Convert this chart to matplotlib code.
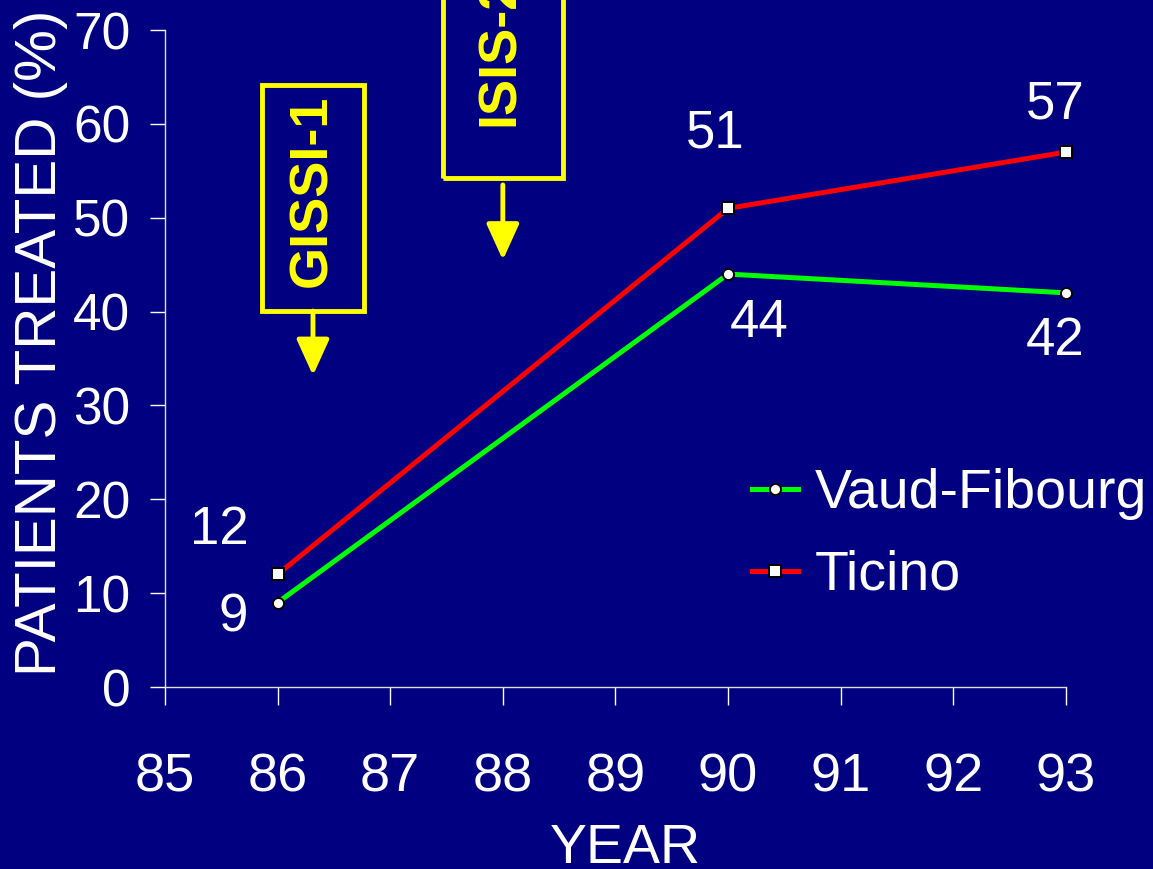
import matplotlib.pyplot as plt
from matplotlib.patches import Rectangle

# thrombolysis use by region, % of patients treated
years = [86, 90, 93]
vaud_fibourg = [9, 44, 42]
ticino = [12, 51, 57]
x_ticks = [85, 86, 87, 88, 89, 90, 91, 92, 93]
y_ticks = [0, 10, 20, 30, 40, 50, 60, 70]

# offsets (points) for the value labels next to each marker
vaud_offsets = [(-32, -11), (22, -35), (-8, -35)]
ticino_offsets = [(-42, 32), (-9, 54), (-8, 34)]

NAVY = '#000080'
plt.rcParams['font.family'] = ['Liberation Sans', 'DejaVu Sans']

fig = plt.figure(figsize=(11.53, 8.69), dpi=100, facecolor=NAVY)
ax = fig.add_axes([0.1431, 0.2094, 0.7814, 0.7560], facecolor=NAVY)

ax.plot(years, vaud_fibourg, color='#00ff00', lw=3.6, marker='o', ms=8,
        mfc='white', mec='black', mew=1.4, label='Vaud-Fibourg', clip_on=False, zorder=3)
ax.plot(years, ticino, color='#ff0000', lw=3.6, marker='s', ms=8.5,
        mfc='white', mec='black', mew=1.4, label='Ticino', clip_on=False, zorder=3)

for x, y, off in zip(years, vaud_fibourg, vaud_offsets):
    ax.annotate(str(y), (x, y), xytext=off, textcoords='offset points',
                ha='center', va='center', color='white', fontsize=38)
for x, y, off in zip(years, ticino, ticino_offsets):
    ax.annotate(str(y), (x, y), xytext=off, textcoords='offset points',
                ha='center', va='center', color='white', fontsize=38)

ax.set_xlim(85, 93)
ax.set_ylim(0, 70)
ax.set_xticks(x_ticks)
ax.set_yticks(y_ticks)
ax.tick_params(axis='x', colors='white', labelsize=39, length=13, width=1, pad=34)
ax.tick_params(axis='y', colors='white', labelsize=37, length=11, width=1, pad=14)
for side in ['top', 'right']:
    ax.spines[side].set_visible(False)
for side in ['left', 'bottom']:
    ax.spines[side].set_color('#e0e0e0')
    ax.spines[side].set_linewidth(1)

fig.text(41 / 1153, 1 - 343 / 869, 'PATIENTS TREATED (%)', rotation=90,
         ha='center', va='center', color='white', fontsize=42)
fig.text(625 / 1153, 6 / 869, 'YEAR', ha='center', va='baseline',
         color='white', fontsize=40)

# trial markers: GISSI-1 and ISIS-2
ax.add_patch(Rectangle((85.861, 40.06), 0.906, 24.08, fill=False,
                       ec='yellow', lw=3.5, clip_on=False))
ax.text(86.305, 52.9, 'GISSI-1', rotation=90, ha='center', va='center',
        color='yellow', fontsize=39, fontweight='bold')
ax.annotate('', xy=(86.314, 33.2), xytext=(86.314, 40.06),
            arrowprops=dict(arrowstyle='-|>,head_length=1.1,head_width=0.5',
                            color='yellow', lw=3.5, mutation_scale=20,
                            shrinkA=0, shrinkB=0), annotation_clip=False)

ax.add_patch(Rectangle((87.468, 54.23), 1.066, 22, fill=False,
                       ec='yellow', lw=3.5, clip_on=False))
ax.text(87.975, 59.8, 'ISIS-2', rotation=90, ha='center', va='bottom',
        color='yellow', fontsize=39, fontweight='bold')
ax.annotate('', xy=(88.0, 45.5), xytext=(88.0, 53.5),
            arrowprops=dict(arrowstyle='-|>,head_length=1.1,head_width=0.5',
                            color='yellow', lw=3.5, mutation_scale=20,
                            shrinkA=0, shrinkB=0), annotation_clip=False)

ax.legend(loc='upper left', bbox_to_anchor=(752 / 1153, 1 - 468 / 869),
          bbox_transform=fig.transFigure, frameon=False, fontsize=40,
          labelcolor='white', handlelength=0.83, handletextpad=0.3,
          borderpad=0, borderaxespad=0, labelspacing=0.54)

fig.savefig('out.png', dpi=100, facecolor=NAVY)
